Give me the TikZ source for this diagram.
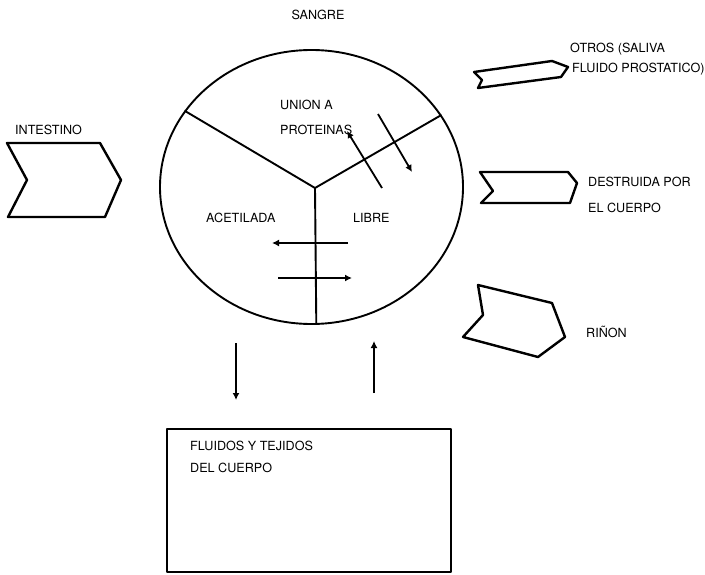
\documentclass[tikz,border=0pt]{standalone}
\usepackage{fontspec}
\setmainfont{TeX Gyre Heros}
\usetikzlibrary{arrows.meta,shapes.geometric}
\tikzset{flow edge/.style={-{Latex[length=7pt,width=7pt]}, line width=1.8pt}}
\tikzset{blood ring/.style={ellipse, draw=black, line width=1.9pt, minimum width=303pt, minimum height=274pt, inner sep=0pt}}
\tikzset{split line/.style={draw=black, line width=1.9pt}}
\tikzset{organ shape/.style={draw=black, line width=2.4pt, line join=round}}
\tikzset{tag text/.style={anchor=base west, inner sep=0pt, font=\fontsize{12.6}{14}\selectfont}}

\begin{document}
\begin{tikzpicture}[x=1pt,y=-1pt]
		\useasboundingbox[fill=white] (0,0) rectangle (705,575);

		% blood compartment
		\node[blood ring] (blood) at (311.5,187) {};
		\coordinate (hub) at (315,188);
		\draw[split line] (blood.149) -- (hub) -- (blood.29);
		\draw[split line] (hub) -- (blood.-88);

		\node[tag text, anchor=base] (sangre) at (318,19.5) {SANGRE};
		\node[tag text] (union) at (280,110) {UNION A};
		\node[tag text] (prot) at (280,135) {PROTEINAS};
		\node[tag text] (acet) at (206,223) {ACETILADA};
		\node[tag text] (libre) at (353,223) {LIBRE};

		% exchanges inside
		\coordinate (bindA) at (378,114);
		\coordinate (bindB) at (412,172);
		\coordinate (freeA) at (382,188);
		\coordinate (freeB) at (347,131);
		\draw[flow edge] (bindA) -- (bindB);
		\draw[flow edge] (freeA) -- (freeB);
		\coordinate (acA) at (348,243);
		\coordinate (acB) at (272,243);
		\coordinate (acC) at (278,278);
		\coordinate (acD) at (352,278);
		\draw[flow edge] (acA) -- (acB);
		\draw[flow edge] (acC) -- (acD);

		% tissues
		\draw[organ shape] (167,429) rectangle (451,572);
		\node[tag text] (fluidos) at (190,450) {FLUIDOS Y TEJIDOS};
		\node[tag text] (delc) at (190,472) {DEL CUERPO};
		\coordinate (outTop) at (236,343);
		\coordinate (outBot) at (236,400);
		\coordinate (inBot) at (374,393);
		\coordinate (inTop) at (374,341);
		\draw[flow edge] (outTop) -- (outBot);
		\draw[flow edge] (inBot) -- (inTop);

		% inputs and outputs
		\draw[organ shape] (7,143) -- (100,143) -- (121,180) -- (105,217) -- (8,217) -- (27,180) -- cycle;
		\node[tag text] (intest) at (15,135) {INTESTINO};

		\draw[organ shape] (474,72) -- (552,61) -- (568,67) -- (561,77) -- (478,88) -- (482,80) -- cycle;
		\node[tag text] (otros) at (570,53) {OTROS (SALIVA};
		\node[tag text] (prost) at (572,73) {FLUIDO PROSTATICO)};

		\draw[organ shape] (480,172) -- (568,172) -- (577,183) -- (570,203) -- (481,203) -- (493,191) -- cycle;
		\node[tag text] (destr) at (588,187) {DESTRUIDA POR};
		\node[tag text] (elc) at (588,213) {EL CUERPO};

		\draw[organ shape] (478,285) -- (552,303) -- (565,337) -- (538,357) -- (463,337) -- (483,315) -- cycle;
		\node[tag text] (rinon) at (586,337) {RIÑON};
	\end{tikzpicture}
\end{document}
